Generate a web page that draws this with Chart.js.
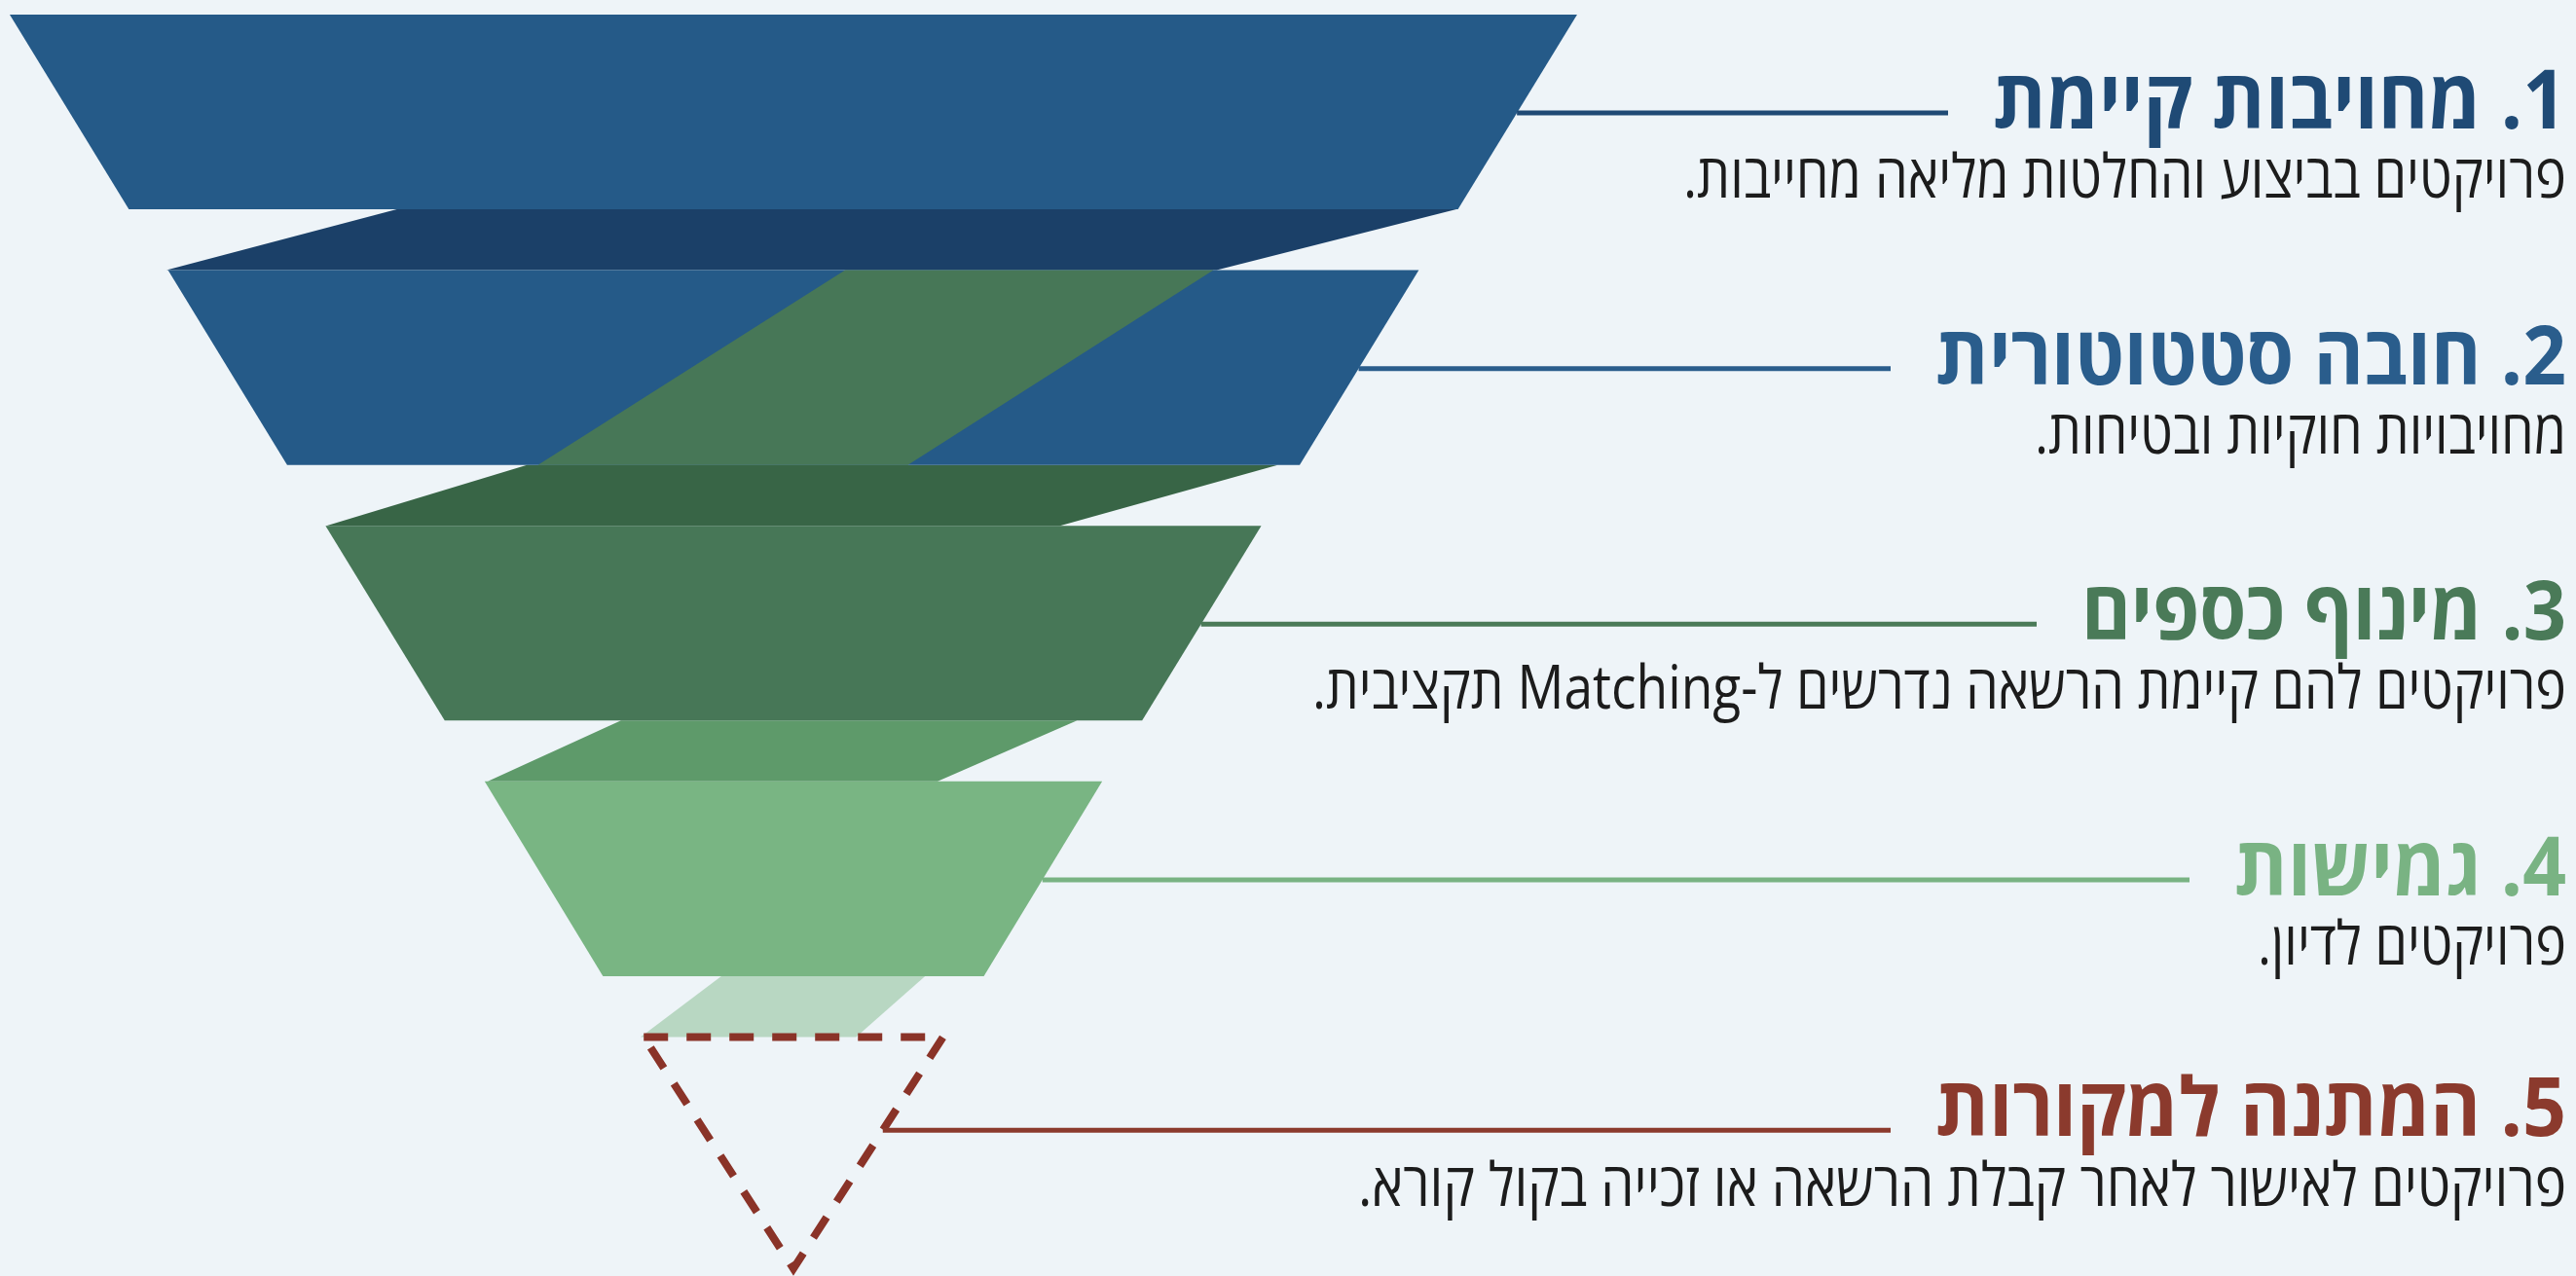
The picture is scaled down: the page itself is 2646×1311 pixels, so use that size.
<!DOCTYPE html>
<html lang="he">
<head>
<meta charset="utf-8">
<script src="https://cdn.jsdelivr.net/npm/chart.js@4.4.1/dist/chart.umd.min.js"></script>
<style>
  html, body { margin: 0; padding: 0; background: #eef4f8; overflow: hidden; }
  #wrap { width: 2646px; height: 1311px; }
</style>
</head>
<body>
<div id="wrap"><canvas id="funnel" width="2646" height="1311"></canvas></div>
<script>
// stages, top to bottom
const stageTitles = [
  '1. מחויבות קיימת',
  '2. חובה סטטוטורית',
  '3. מינוף כספים',
  '4. גמישות',
  '5. המתנה למקורות'
];
const stageNotes = [
  'פרויקטים בביצוע והחלטות מליאה מחייבות.',
  'מחויבויות חוקיות ובטיחות.',
  'פרויקטים להם קיימת הרשאה נדרשים ל-Matching תקציבית.',
  'פרויקטים לדיון.',
  'פרויקטים לאישור לאחר קבלת הרשאה או זכייה בקול קורא.'
];
// funnel width (relative to stage 1 = 100) at top and bottom of each stage
const topWidth = [100, 79.8, 59.7, 39.4, 19.1];
const bottomWidth = [84.8, 64.6, 44.5, 24.3, 0];
// ribbon pieces between stages: [left, right] at top and at bottom
const connectorTop = [[-25.3, 42.3], [-17.0, 30.9], [-11.0, 18.1], [-4.6, 8.4]];
const connectorBottom = [[-40.0, 27.0], [-29.8, 17.0], [-19.5, 9.2], [-9.75, 4.0]];
// green ribbon crossing stage 2
const twistTop = [3.3, 26.8];
const twistBottom = [-16.3, 7.3];

// styling
const bandColors = ['#255a88', '#255a88', '#477757', '#79b583'];
const connectorColors = ['#1b4068', '#386546', '#5e9a6a', 'rgba(170,208,180,0.8)'];
const titleColors = ['#1f4a75', '#2a5d8c', '#4a7a58', '#79b383', '#8b3a2d'];
const pendingColor = '#8a3328';
const titleSpan = [589, 648, 498, 341, 648];   // rendered text widths (condensed face)
const noteSpan = [907, 546, 1288, 317, 1241];

const BAND_H = 0.762;   // stage band depth (stage units)
const TIP_H = 0.906;    // depth of the last (dashed) stage
const FONT = '"Open Sans", "DejaVu Sans", sans-serif';

function depth(i) { return i === stageTitles.length - 1 ? TIP_H : BAND_H; }

function poly(pts, color, order) {
  return {
    data: pts.concat([pts[0]]),
    borderWidth: 0,
    borderColor: color,
    backgroundColor: color,
    fill: 'shape',
    pointRadius: 0,
    tension: 0,
    order: order
  };
}

const datasets = [];
topWidth.forEach((w, i) => {
  if (i === topWidth.length - 1) return;
  const b = bottomWidth[i];
  datasets.push(poly([
    {x: -w / 2, y: i}, {x: w / 2, y: i},
    {x: b / 2, y: i + BAND_H}, {x: -b / 2, y: i + BAND_H}
  ], bandColors[i], 10));
});
connectorTop.forEach((t, i) => {
  const b = connectorBottom[i];
  datasets.push(poly([
    {x: t[0], y: i + BAND_H}, {x: t[1], y: i + BAND_H},
    {x: b[1], y: i + 1}, {x: b[0], y: i + 1}
  ], connectorColors[i], 10));
});
datasets.push(poly([
  {x: twistTop[0], y: 1}, {x: twistTop[1], y: 1},
  {x: twistBottom[1], y: 1 + BAND_H}, {x: twistBottom[0], y: 1 + BAND_H}
], bandColors[2], 5));

// pending stage: dashed triangle
const last = topWidth.length - 1;
datasets.push({
  data: [
    {x: -topWidth[last] / 2, y: last}, {x: topWidth[last] / 2, y: last},
    {x: 0, y: last + TIP_H}, {x: -topWidth[last] / 2, y: last}
  ],
  borderColor: pendingColor,
  borderWidth: 8,
  borderDash: [25, 19],
  borderJoinStyle: 'miter',
  fill: false,
  pointRadius: 0,
  tension: 0,
  order: 1
});

function squeezedText(ctx, text, x, y, span) {
  const k = span / ctx.measureText(text).width;
  ctx.save();
  ctx.translate(x, y);
  ctx.scale(k, 1);
  ctx.fillText(text, 0, 0);
  ctx.restore();
}

const labelPlugin = {
  id: 'stageLabels',
  afterDatasetsDraw(chart) {
    const {ctx, chartArea} = chart;
    const x = chart.scales.x, y = chart.scales.y;
    const right = chartArea.right - 10;
    stageTitles.forEach((title, i) => {
      const lift = i === last ? 0.02 : 0;
      const anchor = i + 0.385 - lift;
      const yLine = y.getPixelForValue(anchor);
      const frac = (anchor - i) / depth(i);
      const edge = topWidth[i] / 2 + (bottomWidth[i] / 2 - topWidth[i] / 2) * frac;
      const xStart = x.getPixelForValue(edge);

      ctx.save();
      ctx.direction = 'rtl';
      ctx.textAlign = 'right';
      ctx.textBaseline = 'alphabetic';

      ctx.font = 'bold 84px ' + FONT;
      ctx.fillStyle = titleColors[i];
      squeezedText(ctx, title, right, yLine + (i === last ? 6 : 16), titleSpan[i]);

      ctx.font = '400 62px ' + FONT;
      ctx.fillStyle = '#1c1c1c';
      squeezedText(ctx, stageNotes[i], right, yLine + (i === last ? 78 : 87), noteSpan[i]);

      ctx.beginPath();
      ctx.strokeStyle = titleColors[i];
      ctx.lineWidth = 5;
      ctx.moveTo(xStart, yLine);
      ctx.lineTo(right - titleSpan[i] - 46, yLine);
      ctx.stroke();
      ctx.restore();
    });
  }
};

new Chart(document.getElementById('funnel'), {
  type: 'line',
  data: { datasets: datasets },
  options: {
    responsive: false,
    animation: false,
    devicePixelRatio: 1,
    layout: { padding: 0 },
    plugins: { legend: { display: false }, tooltip: { enabled: false } },
    scales: {
      x: { type: 'linear', min: -50.62, max: 113.73, display: false },
      y: { type: 'linear', min: -0.057, max: 4.935, reverse: true, display: false }
    }
  },
  plugins: [labelPlugin]
});
</script>
</body>
</html>
